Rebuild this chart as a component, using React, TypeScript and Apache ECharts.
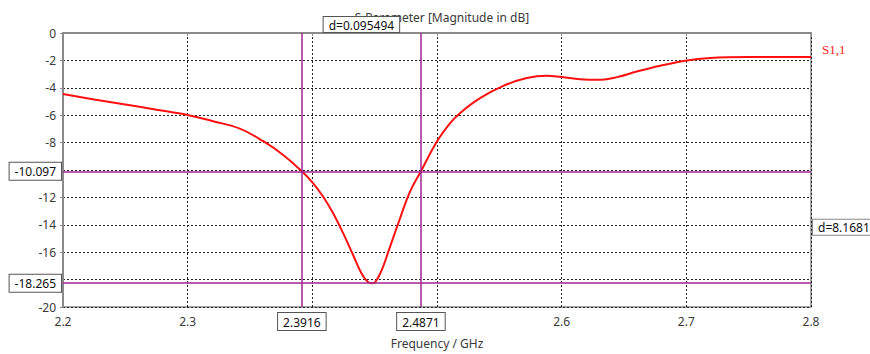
import React, { useEffect, useRef } from "react";
import * as echarts from "echarts";

const FREQ = [2.2, 2.225, 2.25, 2.275, 2.3, 2.3204, 2.3418, 2.3606, 2.3766, 2.3916, 2.4007, 2.4087, 2.4168, 2.4248, 2.4328, 2.4395, 2.4448, 2.4476, 2.4502, 2.4556, 2.4623, 2.4703, 2.4783, 2.4871, 2.4997, 2.5104, 2.5184, 2.5345, 2.5532, 2.572, 2.588, 2.6001, 2.6148, 2.6282, 2.6443, 2.6603, 2.679, 2.7004, 2.7191, 2.75, 2.8];
const S11 = [-4.46, -4.85, -5.22, -5.6, -5.98, -6.44, -6.98, -7.9, -8.9, -10.097, -10.97, -11.95, -13.17, -14.63, -16.22, -17.56, -18.2, -18.265, -18.2, -17.32, -15.61, -13.54, -11.59, -10.097, -7.95, -6.59, -5.85, -4.76, -3.86, -3.29, -3.12, -3.22, -3.37, -3.42, -3.22, -2.81, -2.39, -2.0, -1.83, -1.76, -1.75];

const X_MARKERS = [2.3916, 2.4871];
const Y_MARKERS = [-10.097, -18.265];
const X_DELTA_TEXT = "d=0.095494";
const Y_DELTA_TEXT = "d=8.1681";
const HIDDEN_X_TICKS = [2.4, 2.5];
const HIDDEN_Y_TICKS = [-10, -18];

const SERIES_NAME = "S1,1";
const TITLE = "S-Parameter [Magnitude in dB]";
const X_NAME = "Frequency / GHz";

const FONT = "Noto Sans";
const MARK = "#a3268f";
const TXT = "#3a3a3a";
const AX = "#8a8a8a";

const boxLabel = {
  show: true,
  color: "#111",
  fontFamily: FONT,
  fontSize: 12,
  backgroundColor: "#fff",
  borderColor: "#555",
  borderWidth: 1,
  padding: [3, 5, 2, 5],
};

export default function App() {
  const ref = useRef<HTMLDivElement>(null);
  useEffect(() => {
    if (!ref.current) return;
    const chart = echarts.init(ref.current, undefined, { renderer: "svg" });
    const data = FREQ.map((f, i) => [f, S11[i]]);
    const option: any = {
      animation: false,
      backgroundColor: "#fff",
      title: {
        text: TITLE,
        left: 437,
        top: 6,
        textAlign: "center",
        textStyle: { fontFamily: FONT, fontSize: 12, fontWeight: "normal", color: TXT },
      },
      legend: {
        data: [SERIES_NAME],
        left: 812,
        top: 37,
        icon: "none",
        itemWidth: 0,
        itemGap: 0,
        textStyle: { color: "#ff2020", fontFamily: "Liberation Serif", fontSize: 13 },
      },
      grid: {
        left: 63,
        right: 59,
        top: 33,
        bottom: 47,
        show: true,
        borderColor: AX,
        borderWidth: 1.5,
        backgroundColor: "#fff",
      },
      xAxis: {
        type: "value",
        min: 2.2,
        max: 2.8,
        interval: 0.1,
        name: X_NAME,
        nameLocation: "middle",
        nameGap: 30,
        nameTextStyle: { fontFamily: FONT, fontSize: 12, color: TXT },
        axisLine: { lineStyle: { color: AX, width: 2 } },
        axisTick: { show: true, length: 3, lineStyle: { color: AX } },
        axisLabel: {
          fontFamily: FONT,
          fontSize: 12,
          color: TXT,
          margin: 8,
          formatter: (v: number) =>
            HIDDEN_X_TICKS.some((h) => Math.abs(h - v) < 1e-6) ? "" : String(Math.round(v * 10) / 10),
        },
        splitLine: { show: true, lineStyle: { color: "#222", type: [2, 2], width: 1 } },
      },
      yAxis: {
        type: "value",
        min: -20,
        max: 0,
        interval: 2,
        axisLine: { show: true, lineStyle: { color: AX, width: 2 } },
        axisTick: { show: true, length: 3, lineStyle: { color: AX } },
        axisLabel: {
          fontFamily: FONT,
          fontSize: 12,
          color: TXT,
          margin: 7,
          formatter: (v: number) =>
            HIDDEN_Y_TICKS.some((h) => Math.abs(h - v) < 1e-6) ? "" : String(v),
        },
        splitLine: { show: true, lineStyle: { color: "#222", type: [2, 2], width: 1 } },
      },
      series: [
        {
          name: SERIES_NAME,
          type: "line",
          data,
          smooth: 0.4,
          showSymbol: false,
          lineStyle: { color: "#ff1010", width: 2 },
          itemStyle: { color: "#ff1010" },
          z: 3,
          markLine: {
            silent: true,
            symbol: "none",
            animation: false,
            precision: 4,
            lineStyle: { color: MARK, width: 1.5, type: "solid" },
            data: [
              ...X_MARKERS.map((x) => ({
                xAxis: x,
                label: { ...boxLabel, position: "start", distance: 6, formatter: String(x) },
              })),
              ...Y_MARKERS.map((y) => ({
                yAxis: y,
                label: { ...boxLabel, position: "start", distance: 2, formatter: String(y) },
              })),
            ],
          },
        },
      ],
    };
    chart.setOption(option);

    const px1 = chart.convertToPixel({ xAxisIndex: 0 }, X_MARKERS[0]) as number;
    const px2 = chart.convertToPixel({ xAxisIndex: 0 }, X_MARKERS[1]) as number;
    const pyTop = chart.convertToPixel({ yAxisIndex: 0 }, 0) as number;
    const py1 = chart.convertToPixel({ yAxisIndex: 0 }, Y_MARKERS[0]) as number;
    const py2 = chart.convertToPixel({ yAxisIndex: 0 }, Y_MARKERS[1]) as number;
    const pxRight = chart.convertToPixel({ xAxisIndex: 0 }, 2.8) as number;

    chart.setOption({
      graphic: [
        {
          type: "text",
          z: 100,
          x: (px1 + px2) / 2,
          y: pyTop - 1,
          style: {
            text: X_DELTA_TEXT,
            align: "center",
            verticalAlign: "bottom",
            fill: "#111",
            font: `12px "${FONT}"`,
            backgroundColor: "#fff",
            borderColor: "#555",
            borderWidth: 1,
            padding: [2, 5, 1, 5],
          },
        },
        {
          type: "text",
          z: 100,
          x: pxRight + 2,
          y: (py1 + py2) / 2,
          style: {
            text: Y_DELTA_TEXT,
            align: "left",
            verticalAlign: "middle",
            fill: "#111",
            font: `12px "${FONT}"`,
            backgroundColor: "#fff",
            borderColor: "#888",
            borderWidth: 1,
            padding: [2, 5, 1, 5],
          },
        },
      ],
    });

    return () => chart.dispose();
  }, []);
  return (
    <div
      ref={ref}
      style={{ position: "absolute", left: 0, top: 0, width: 870, height: 354 }}
    />
  );
}
